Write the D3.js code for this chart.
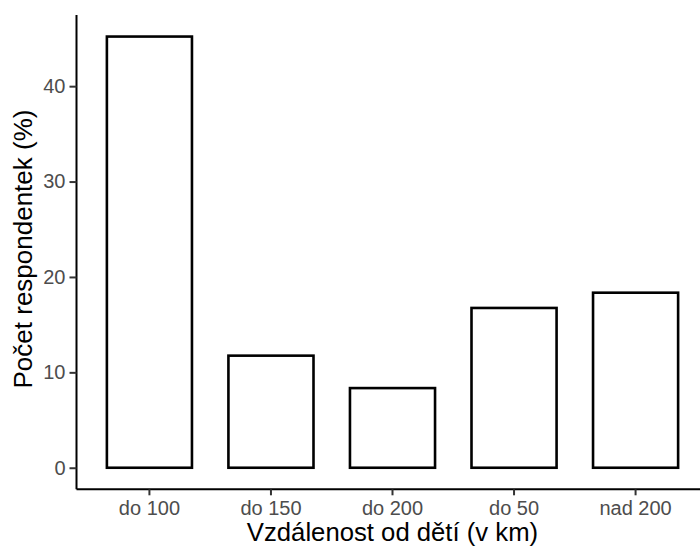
<!DOCTYPE html>
<html>
<head>
<meta charset="utf-8">
<script src="https://cdn.jsdelivr.net/npm/d3@7"></script>
<style>
  body { margin: 0; background: #fff; }
  svg { display: block; font-family: "Liberation Sans", Arial, sans-serif; }
</style>
</head>
<body>
<script>
'use strict';

// data
const categories = ["do 100", "do 150", "do 200", "do 50", "nad 200"];
const percents = [45.2, 11.75, 8.35, 16.75, 18.35];
const yTicks = [0, 10, 20, 30, 40];

(function() {
  const width = 700;
  const height = 552;

  const svg = d3.select('body')
    .append('svg')
    .attr('width', width)
    .attr('height', height);

  const pLeft = 76.5, pRight = 708.5, pTop = 15, pBottom = 489.3;

  let yMax = d3.max(percents);
  let yScale = d3.scaleLinear()
    .domain([-0.05 * yMax, yMax * 1.05]) // ggplot style expansion
    .range([pBottom, pTop]);

  let xScale = d3.scaleBand()
    .domain(categories)
    .range([pLeft, pRight])
    .paddingInner(0.3)
    .paddingOuter(0.25);

  // bars
  svg.selectAll('.bar')
    .data(categories)
    .enter()
    .append('rect')
    .attr('class', 'bar')
    .attr('x', d => xScale(d))
    .attr('width', xScale.bandwidth())
    .attr('y', (d, i) => yScale(percents[i]))
    .attr('height', (d, i) => yScale(0) - yScale(percents[i]))
    .attr('fill', 'white')
    .attr('stroke', 'black')
    .attr('stroke-width', 2.6);

  // y axis
  let yAxis = svg.append('g')
    .attr('transform', 'translate(' + pLeft + ',0)')
    .call(d3.axisLeft(yScale).tickValues(yTicks).tickSize(7).tickPadding(4));
  yAxis.select('.domain').attr('stroke', 'black').attr('stroke-width', 2)
    .attr('d', 'M0,' + pTop + 'V' + pBottom);
  yAxis.selectAll('.tick line').attr('stroke', '#333').attr('stroke-width', 2);
  yAxis.selectAll('.tick text')
    .attr('fill', '#4D4D4D')
    .style('font-size', '20px');

  // x axis
  let xAxis = svg.append('g')
    .attr('transform', 'translate(0,' + pBottom + ')')
    .call(d3.axisBottom(xScale).tickSize(6).tickPadding(6));
  xAxis.select('.domain').attr('stroke', 'black').attr('stroke-width', 2)
    .attr('d', 'M' + pLeft + ',0H' + pRight);
  xAxis.selectAll('.tick line').attr('stroke', '#333').attr('stroke-width', 2);
  xAxis.selectAll('.tick text')
    .attr('fill', '#4D4D4D')
    .style('font-size', '20px');

  // titles
  svg.append('text')
    .attr('x', (pLeft + pRight) / 2)
    .attr('y', 541)
    .attr('text-anchor', 'middle')
    .style('font-size', '25.7px')
    .attr('fill', 'black')
    .text('Vzdálenost od dětí (v km)');

  svg.append('text')
    .attr('transform', 'translate(31.5,249)rotate(-90)')
    .attr('text-anchor', 'middle')
    .style('font-size', '26px')
    .attr('fill', 'black')
    .text('Počet respondentek (%)');
})();
</script>
</body>
</html>
